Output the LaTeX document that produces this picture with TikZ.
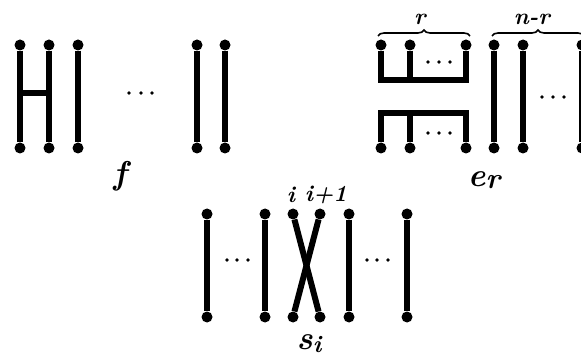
\documentclass[tikz,border=0pt]{standalone}
\usetikzlibrary{decorations.pathreplacing}
\begin{document}
\begin{tikzpicture}[x=1pt,y=-1pt,
  endpt/.style={circle,fill=black,inner sep=0pt,minimum size=11pt},
  strand/.style={line width=6pt},
  lab/.style={font=\fontsize{33}{33}\selectfont\bfseries\itshape,inner sep=0pt},
  small/.style={font=\fontsize{23}{23}\selectfont\bfseries\itshape,inner sep=0pt},
  bracestyle/.style={decorate,decoration={brace,amplitude=6pt},line width=1.6pt},
  ]
\useasboundingbox (0,0) rectangle (581,358);

% ---------- f ----------
\foreach \n/\x in {1/20,2/49,3/78,4/197,5/225}{
  \node[endpt] (ft\n) at (\x,45) {};
  \node[endpt] (fb\n) at (\x,148) {};
  \draw[strand] (ft\n) -- (fb\n);
}
\coordinate (fbar) at (0,93);
\draw[strand] (ft1 |- fbar) -- (ft2 |- fbar);
\foreach \x in {129,141,152} \fill (\x,93) circle (1.9pt);
\node[lab] (flab) at (120,176) {f};

% ---------- e_r ----------
\foreach \n/\x in {1/381,2/410,3/466}{
  \node[endpt] (et\n) at (\x,45) {};
  \node[endpt] (eb\n) at (\x,148) {};
}
\coordinate (cupy) at (0,80);
\coordinate (capy) at (0,113);
\draw[strand] (et1) -- (et1 |- cupy) -- (et3 |- cupy) -- (et3);
\draw[strand] (et2) -- (et2 |- cupy);
\draw[strand] (eb1) -- (eb1 |- capy) -- (eb3 |- capy) -- (eb3);
\draw[strand] (eb2) -- (eb2 |- capy);
\foreach \x in {428,439,450}{ \fill (\x,62) circle (1.9pt); \fill (\x,133) circle (1.9pt); }
\foreach \n/\x in {4/494,5/523,6/582}{
  \node[endpt] (et\n) at (\x,45) {};
  \node[endpt] (eb\n) at (\x,148) {};
  \draw[strand] (et\n) -- (eb\n);
}
\foreach \x in {542,553,564} \fill (\x,97) circle (1.9pt);
\coordinate (br1a) at (378,36);
\coordinate (br1b) at (470,36);
\coordinate (br2a) at (492,36);
\coordinate (br2b) at (584,36);
\draw[bracestyle] (br1a) -- (br1b);
\draw[bracestyle] (br2a) -- (br2b);
\node[small] (rlab) at (420,19) {r};
\node[small] (nrlab) at (532,19) {n-r};
\node[lab] (elab) at (484,180) {e\raisebox{-2pt}{\fontsize{29}{29}\selectfont r}};

% ---------- s_i ----------
\foreach \n/\x in {1/207,2/265,3/293,4/320,5/349,6/407}{
  \node[endpt] (st\n) at (\x,214) {};
  \node[endpt] (sb\n) at (\x,317) {};
}
\foreach \n in {1,2,5,6} \draw[strand] (st\n) -- (sb\n);
\draw[strand] (st3) -- (sb4);
\draw[strand] (st4) -- (sb3);
\foreach \x in {227,237,248,367,377,388} \fill (\x,260) circle (1.9pt);
\node[small] (ilab) at (291,195) {i};
\node[small] (i1lab) at (326,195) {i+1};
\node[lab] (slab) at (309,344) {s\raisebox{-3pt}{\fontsize{24}{24}\selectfont i}};
\end{tikzpicture}
\end{document}
